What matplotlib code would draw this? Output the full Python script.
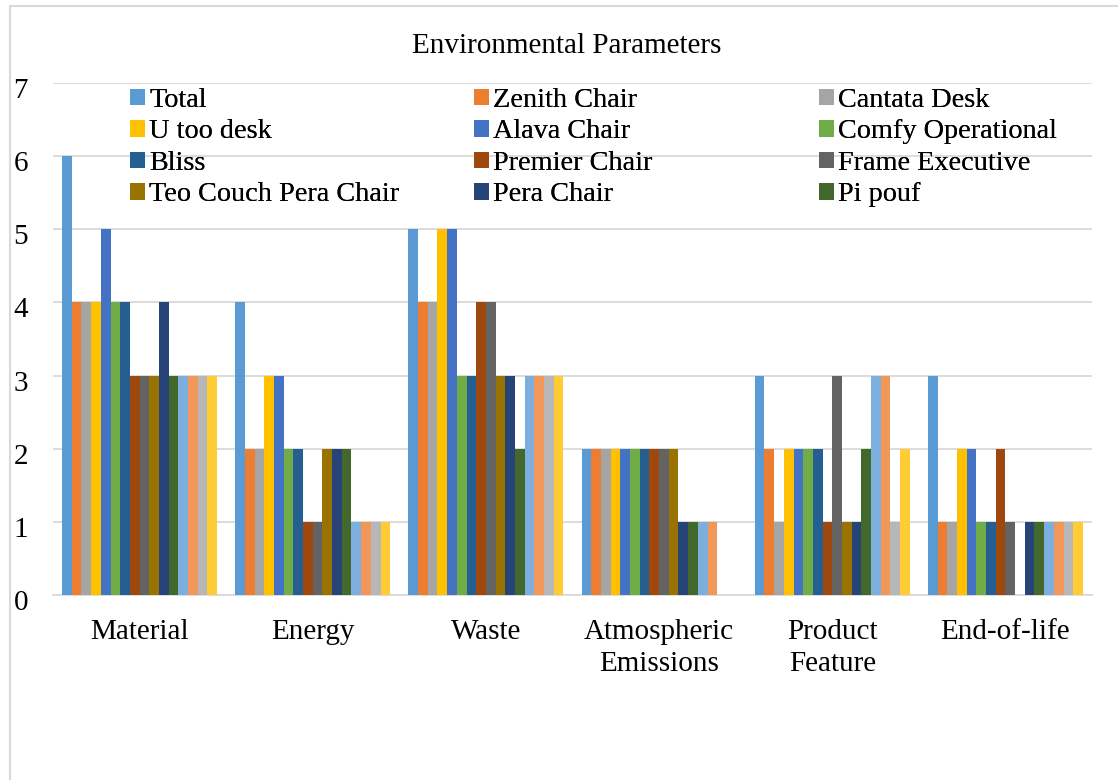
import matplotlib
matplotlib.use("Agg")
import matplotlib.pyplot as plt
import matplotlib.patches as mpatches
import matplotlib.transforms as mtransforms
import numpy as np

plt.rcParams["font.family"] = ["Liberation Serif", "DejaVu Serif"]

categories = ["Material", "Energy", "Waste", "Atmospheric\nEmissions",
              "Product\nFeature", "End-of-life"]

series_names = ["Total", "Zenith Chair", "Cantata Desk", "U too desk",
                "Alava Chair", "Comfy Operational", "Bliss", "Premier Chair",
                "Frame Executive", "Teo Couch Pera Chair", "Pera Chair",
                "Pi pouf", "Series13", "Series14", "Series15", "Series16"]

# values per series, in category order
total = [6, 4, 5, 2, 3, 3]
zenith = [4, 2, 4, 2, 2, 1]
cantata = [4, 2, 4, 2, 1, 1]
u_too = [4, 3, 5, 2, 2, 2]
alava = [5, 3, 5, 2, 2, 2]
comfy = [4, 2, 3, 2, 2, 1]
bliss = [4, 2, 3, 2, 2, 1]
premier = [3, 1, 4, 2, 1, 2]
frame = [3, 1, 4, 2, 3, 1]
teo = [3, 2, 3, 2, 1, 0]
pera = [4, 2, 3, 1, 1, 1]
pi_pouf = [3, 2, 2, 1, 2, 1]
s13 = [3, 1, 3, 1, 3, 1]
s14 = [3, 1, 3, 1, 3, 1]
s15 = [3, 1, 3, 0, 1, 1]
s16 = [3, 1, 3, 0, 2, 1]

values = [total, zenith, cantata, u_too, alava, comfy, bliss, premier,
          frame, teo, pera, pi_pouf, s13, s14, s15, s16]

colors = ["#5B9BD5", "#ED7D31", "#A5A5A5", "#FFC000", "#4472C4", "#70AD47",
          "#255E91", "#9E480E", "#636363", "#997300", "#264478", "#43682B",
          "#7CAFDD", "#F1975A", "#B7B7B7", "#FFCD33"]

fs = 21

fig = plt.figure(figsize=(11.18, 7.8), dpi=100)
ax = fig.add_axes([53 / 1118, 1 - 595 / 780, 1039 / 1118, 512 / 780])

x = np.arange(len(categories))
n = len(values)
w = 0.895 / n
bars = []
for j, (name, vals, c) in enumerate(zip(series_names, values, colors)):
    b = ax.bar(x + (j - (n - 1) / 2) * w, vals, w, color=c, label=name,
               zorder=3)
    bars.append(b)

ax.set_xlim(-0.5, len(categories) - 0.5)
ax.set_ylim(0, 7)
ax.set_yticks(range(0, 8))
ax.set_xticks(x)
ax.set_xticklabels(categories, fontsize=fs, linespacing=1.32)
ax.tick_params(axis="x", length=0, pad=17)
ax.tick_params(axis="y", length=0, pad=18, labelsize=fs)
ax.grid(True, axis="y", color="#D9D9D9", linewidth=1.3, zorder=0)
for s in ["top", "right", "left"]:
    ax.spines[s].set_visible(False)
ax.spines["bottom"].set_color("#D9D9D9")
ax.spines["bottom"].set_linewidth(1.3)

# Excel draws the value labels a little below their gridline
shift = mtransforms.ScaledTranslation(0, -5 / 100, fig.dpi_scale_trans)
for lab in ax.get_yticklabels():
    lab.set_transform(lab.get_transform() + shift)

fig.text(567 / 1118, 1 - 46 / 780, "Environmental Parameters", fontsize=fs,
         ha="center", va="center")

# legend: three columns, filled row by row like the original
col_x = [130 / 1118, 474 / 1118, 819 / 1118]
for c in range(3):
    idx = [c, c + 3, c + 6, c + 9]
    leg = fig.legend([bars[i] for i in idx], [series_names[i] for i in idx],
                     loc="upper left", bbox_to_anchor=(col_x[c], 1 - 88 / 780),
                     frameon=False, fontsize=20.3, handlelength=0.54,
                     handleheight=0.54, handletextpad=0.15, labelspacing=0.23,
                     borderaxespad=0, borderpad=0)
    fig.add_artist(leg)

fig.add_artist(mpatches.Rectangle((9.5 / 1118, -0.05), 1.1, 0.05 + 1 - 6.5 / 780,
                                  transform=fig.transFigure, fill=False,
                                  edgecolor="#D9D9D9", linewidth=1.5))

fig.savefig("out.png", dpi=100)
